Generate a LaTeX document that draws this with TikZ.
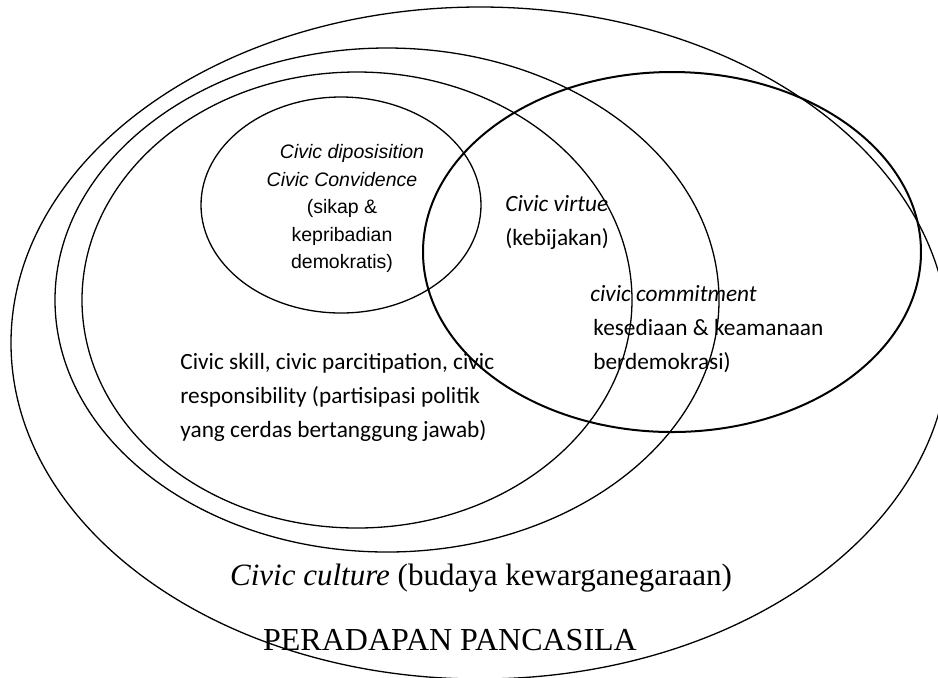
\documentclass[tikz,border=0pt]{standalone}
\usepackage{fontspec}
\setmainfont{Liberation Serif}
\newfontfamily\arialfont{Liberation Sans}
\newfontfamily\calibrifont{Carlito}
\usetikzlibrary{shapes.geometric}

\begin{document}
\begin{tikzpicture}[x=0.5pt, y=-0.5pt]
	\tikzstyle{ring}=[ellipse, draw=black, line width=0.65pt, inner sep=0pt];
	\tikzstyle{arial}=[font=\arialfont\fontsize{9.75}{13.75}\selectfont, inner sep=0pt, align=center];
	\tikzstyle{calibri}=[font=\calibrifont\fontsize{11.65}{17}\selectfont, inner sep=0pt, align=left];

	\useasboundingbox (0, 0) rectangle (938, 677);
	\clip (0, 0) rectangle (938, 677);
	\node[ring, minimum width=469pt, minimum height=336pt] (peradaban) at (480, 343) {};
	\node[ring, minimum width=332pt, minimum height=252pt] (culture) at (387, 300) {};
	\node[ring, minimum width=275pt, minimum height=228pt] (skill) at (357, 300) {};
	\node[ring, minimum width=140pt, minimum height=108pt] (disposition) at (341, 205) {};
	\node[ring, line width=1pt, minimum width=249pt, minimum height=180pt] (commitment) at (672, 252) {};

	\node[arial, anchor=north] (dispositiontext) at (342, 144)
		{\hspace*{10pt}\textit{Civic diposisition}\\ \textit{Civic Convidence}\\ (sikap \&\\ kepribadian\\ demokratis)};
	\node[calibri, anchor=north west] (virtuetext) at (505, 195)
		{\textit{Civic virtue}\\ (kebijakan)};
	\node[calibri, anchor=north west] (commitmenttext) at (590, 285)
		{\textit{civic commitment}\\ \hspace*{1.5pt}kesediaan \& keamanaan\\ \hspace*{1.5pt}berdemokrasi)};
	\node[calibri, anchor=north west] (skilltext) at (180, 353)
		{Civic skill, civic parcitipation, civic\\ responsibility (partisipasi politik\\ yang cerdas bertanggung jawab)};
	\node[font=\fontsize{15.5}{18}\selectfont, inner sep=0pt, anchor=base] (culturetext) at (481, 585)
		{\textit{Civic culture} (budaya kewarganegaraan)};
	\node[font=\fontsize{16}{19}\selectfont, inner sep=0pt, anchor=base] (peradabantext) at (450, 650)
		{PERADAPAN PANCASILA};
\end{tikzpicture}
\end{document}
